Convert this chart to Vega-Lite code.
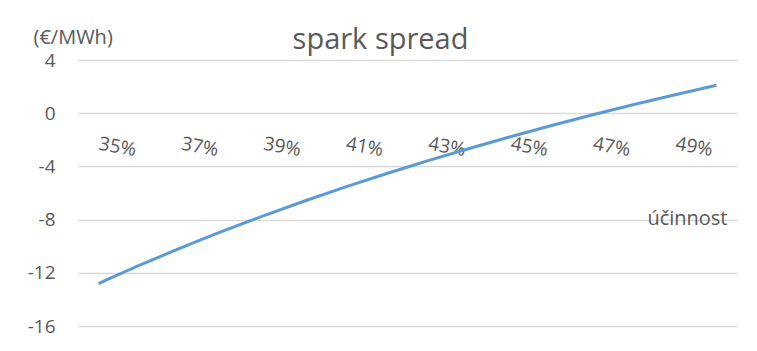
{
  "$schema": "https://vega.github.io/schema/vega-lite/v6.json",
  "width": 659,
  "height": 266,
  "autosize": "none",
  "padding": {"left": 78, "top": 60, "right": 20, "bottom": 25},
  "background": "white",
  "title": {
    "text": "spark spread",
    "anchor": "middle",
    "frame": "group",
    "baseline": "alphabetic",
    "offset": -51,
    "dx": -27,
    "font": "Open Sans",
    "fontSize": 29,
    "fontWeight": "normal",
    "color": "#595959"
  },
  "config": {
    "view": {"stroke": null},
    "axis": {
      "labelFont": "Open Sans",
      "titleFont": "Open Sans",
      "labelColor": "#595959",
      "titleColor": "#595959",
      "titleFontWeight": "normal",
      "domain": false,
      "ticks": false
    }
  },
  "data": {
    "values": [
      {"ucinnost": 35, "spread": -12.81},
      {"ucinnost": 36, "spread": -11.43},
      {"ucinnost": 37, "spread": -10.13},
      {"ucinnost": 38, "spread": -8.89},
      {"ucinnost": 39, "spread": -7.72},
      {"ucinnost": 40, "spread": -6.6},
      {"ucinnost": 41, "spread": -5.54},
      {"ucinnost": 42, "spread": -4.53},
      {"ucinnost": 43, "spread": -3.57},
      {"ucinnost": 44, "spread": -2.65},
      {"ucinnost": 45, "spread": -1.77},
      {"ucinnost": 46, "spread": -0.93},
      {"ucinnost": 47, "spread": -0.12},
      {"ucinnost": 48, "spread": 0.65},
      {"ucinnost": 49, "spread": 1.39},
      {"ucinnost": 50, "spread": 2.1}
    ]
  },
  "mark": {"type": "line", "color": "#5B9BD5", "strokeWidth": 3, "interpolate": "monotone"},
  "encoding": {
    "x": {
      "field": "ucinnost",
      "type": "quantitative",
      "scale": {"domain": [34.5, 50.5], "nice": false, "zero": false},
      "axis": {
        "title": "účinnost",
        "titleFontSize": 20,
        "titleAlign": "right",
        "titleBaseline": "middle",
        "titleAnchor": null,
        "titleX": 649,
        "titleY": 105,
        "orient": "bottom",
        "offset": -212.8,
        "values": [35, 37, 39, 41, 43, 45, 47, 49],
        "labelExpr": "datum.value + '%'",
        "labelFontSize": 19,
        "labelAngle": 10,
        "labelAlign": "left",
        "labelBaseline": "middle",
        "labelPadding": 30,
        "grid": false
      }
    },
    "y": {
      "field": "spread",
      "type": "quantitative",
      "scale": {"domain": [-16, 4], "nice": false},
      "axis": {
        "title": "(€/MWh)",
        "titleAngle": 0,
        "titleFontSize": 20,
        "titleAlign": "left",
        "titleBaseline": "alphabetic",
        "titleAnchor": null,
        "titleX": -45,
        "titleY": -17,
        "values": [4, 0, -4, -8, -12, -16],
        "labelExpr": "replace(datum.label, '−', '-')",
        "labelFontSize": 19,
        "labelPadding": 23,
        "grid": true,
        "gridColor": "#d9d9d9",
        "gridWidth": 1.5
      }
    }
  }
}
